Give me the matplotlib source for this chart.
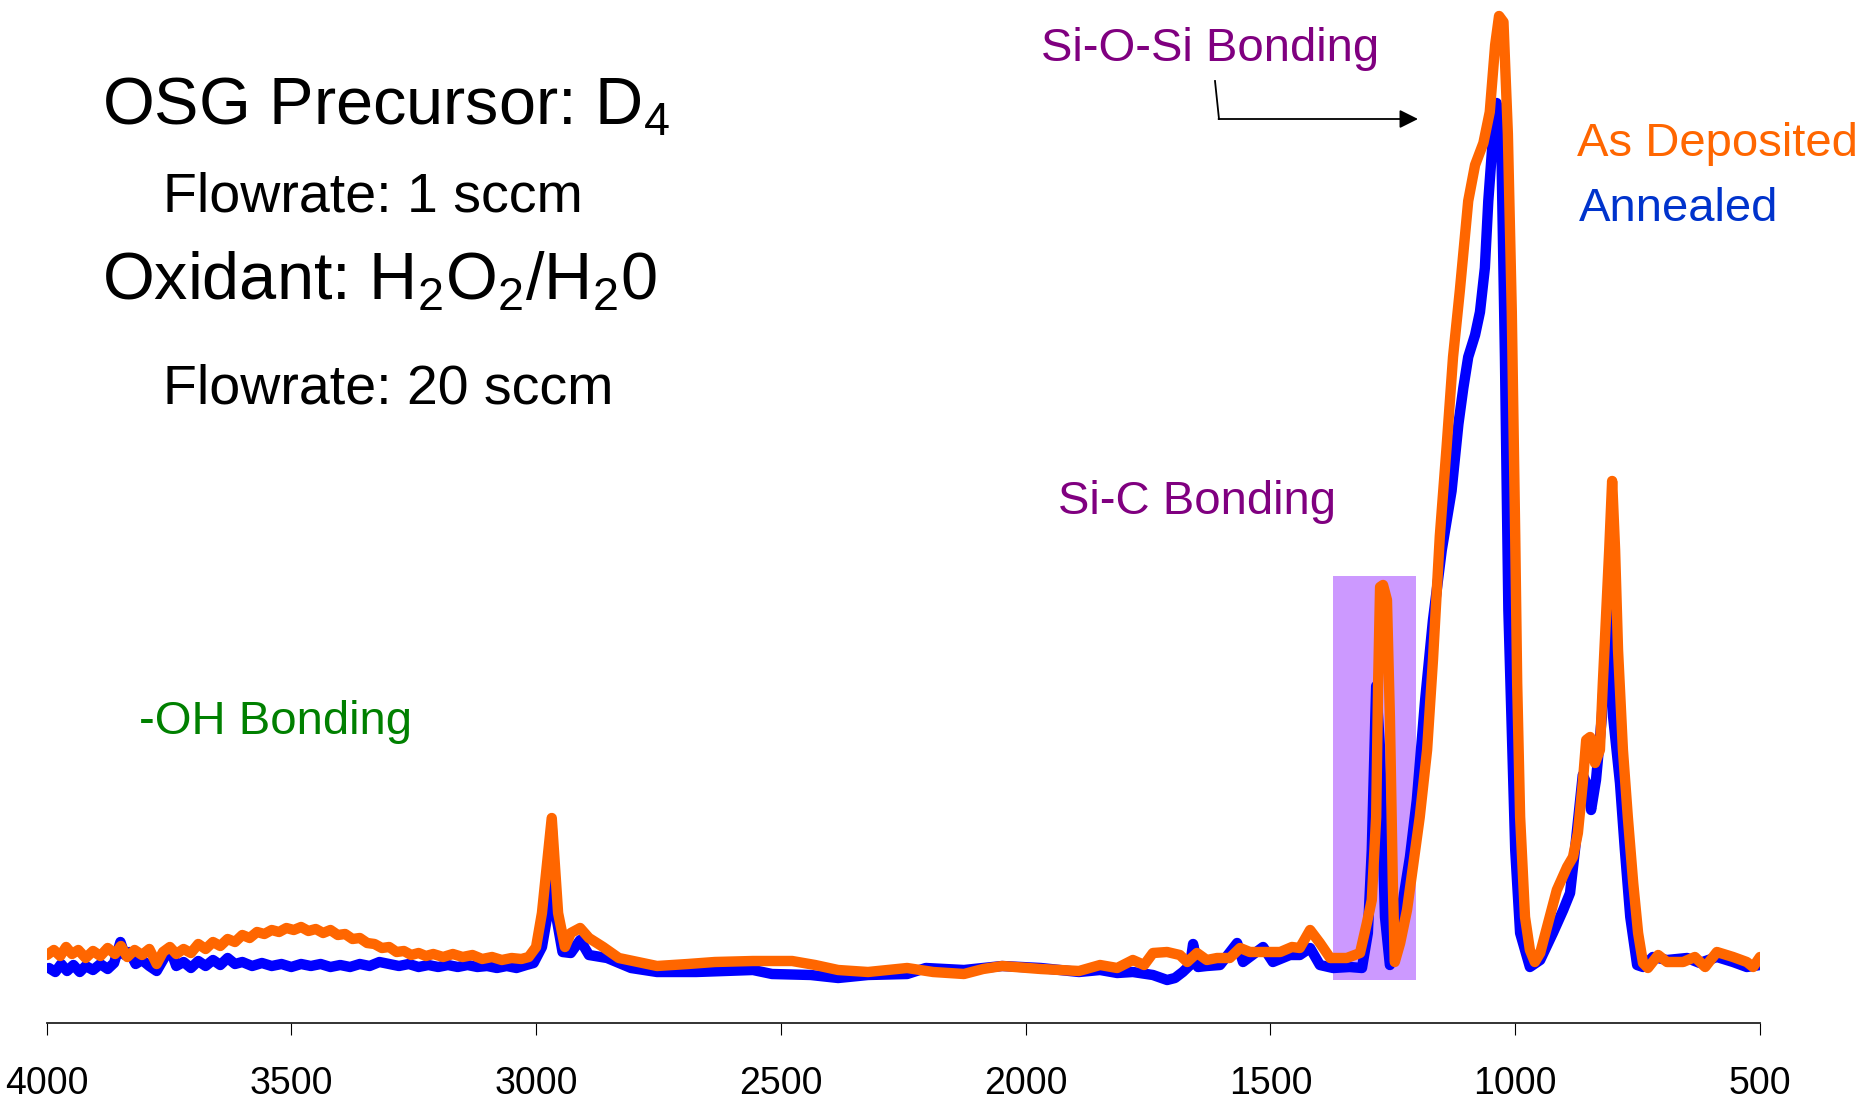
import matplotlib
matplotlib.use("Agg")
import matplotlib.pyplot as plt
from matplotlib.patches import Rectangle

plt.rcParams['font.family'] = ['Liberation Sans', 'DejaVu Sans']

# ── FTIR spectra (wavenumber in cm^-1, absorbance in arb. units) ──────────────
wn_dep = [3999, 3985, 3972, 3960, 3948, 3935, 3920, 3905, 3890, 3875, 3860, 3848,
          3835, 3820, 3805, 3790, 3775, 3762, 3748, 3735, 3720, 3705, 3690, 3675,
          3660, 3645, 3630, 3615, 3600, 3585, 3570, 3555, 3540, 3525, 3510, 3495,
          3480, 3465, 3450, 3435, 3420, 3405, 3390, 3375, 3360, 3345, 3330, 3315,
          3300, 3285, 3270, 3255, 3240, 3225, 3210, 3190, 3170, 3150, 3130, 3110,
          3090, 3070, 3050, 3030, 3015,
          3000, 2988, 2968, 2955, 2941, 2929, 2910, 2892, 2863, 2831, 2792,
          2753, 2690, 2635, 2557, 2477, 2430, 2383, 2322, 2242, 2189, 2126, 2087,
          2048, 1969, 1891, 1848, 1813, 1781, 1758, 1740, 1711, 1685, 1670, 1650,
          1630, 1609, 1583, 1562, 1542, 1507, 1480, 1456, 1440, 1419, 1399, 1378,
          1344, 1317, 1303, 1293, 1284, 1280, 1276, 1270, 1262, 1256, 1250, 1246,
          1235, 1221, 1209, 1195, 1180, 1168, 1154, 1140, 1127, 1113, 1103, 1096,
          1082, 1065, 1052, 1041, 1033, 1024, 1015, 1007, 1000, 996, 990, 980,
          970, 960, 949, 935, 915, 894, 882, 872, 862, 855, 847, 837, 827, 821,
          813, 808, 802, 796, 790, 780, 770, 759, 749, 739, 729, 708, 690, 657,
          633, 612, 588, 555, 527, 514, 500]
abs_dep = [0.005, 0.010, 0.004, 0.013, 0.006, 0.010, 0.002, 0.009, 0.004, 0.012, 0.006, 0.014,
           0.003, 0.010, 0.005, 0.011, -0.004, 0.008, 0.013, 0.006, 0.011, 0.007, 0.016, 0.011,
           0.018, 0.014, 0.021, 0.018, 0.025, 0.022, 0.028, 0.026, 0.030, 0.028, 0.032, 0.030,
           0.033, 0.029, 0.031, 0.027, 0.030, 0.025, 0.026, 0.021, 0.022, 0.017, 0.016, 0.012,
           0.013, 0.008, 0.009, 0.005, 0.007, 0.004, 0.006, 0.003, 0.006, 0.003, 0.005, 0.001,
           0.003, 0.000, 0.002, 0.001, 0.003,
           0.013, 0.047, 0.142, 0.047, 0.013, 0.027, 0.032, 0.022, 0.013, 0.002, -0.002,
           -0.006, -0.004, -0.002, -0.001, -0.001, -0.005, -0.010, -0.012, -0.008, -0.012, -0.014, -0.009,
           -0.006, -0.009, -0.011, -0.005, -0.008, 0.000, -0.005, 0.007, 0.008, 0.005, -0.002, 0.007,
           0.000, 0.002, 0.002, 0.012, 0.008, 0.008, 0.008, 0.013, 0.012, 0.030, 0.017, 0.002,
           0.002, 0.007, 0.037, 0.060, 0.143, 0.277, 0.373, 0.375, 0.360, 0.243, 0.077, -0.002,
           0.017, 0.050, 0.093, 0.143, 0.210, 0.300, 0.424, 0.514, 0.603, 0.670, 0.723, 0.759,
           0.795, 0.817, 0.848, 0.915, 0.944, 0.938, 0.826, 0.648, 0.424, 0.277, 0.143, 0.043,
           0.010, -0.002, 0.007, 0.033, 0.070, 0.093, 0.103, 0.127, 0.177, 0.220, 0.223, 0.197, 0.210, 0.277,
           0.360, 0.410, 0.479, 0.410, 0.310, 0.210, 0.143, 0.077, 0.027, -0.003, -0.008, 0.005, -0.002, -0.002,
           0.003, -0.007, 0.008, 0.003, -0.002, -0.007, 0.003]

wn_ann = [3995, 3982, 3970, 3958, 3945, 3932, 3920, 3905, 3890, 3875, 3862, 3849,
          3840, 3830, 3818, 3805, 3790, 3775, 3762, 3748, 3735, 3720, 3705, 3690,
          3675, 3660, 3645, 3630, 3615, 3600, 3580, 3560, 3540, 3520, 3500, 3480,
          3460, 3440, 3420, 3400, 3380, 3360, 3340, 3320, 3300, 3280, 3260, 3240,
          3220, 3200, 3180, 3160, 3140, 3120, 3100, 3080, 3060, 3040, 3020, 3005,
          2988, 2976, 2968, 2960,
          2946, 2929, 2910, 2892, 2855, 2806, 2753, 2673, 2557, 2518, 2439, 2383,
          2322, 2242, 2204, 2126, 2048, 1969, 1891, 1848, 1813, 1781, 1740, 1711,
          1695, 1679, 1664, 1658, 1648, 1630, 1603, 1568, 1556, 1515, 1495, 1460,
          1440, 1419, 1399, 1372, 1338, 1313, 1301, 1293, 1284, 1276, 1266, 1256,
          1241, 1229, 1215, 1201, 1184, 1168, 1150, 1130, 1116, 1106, 1096, 1082,
          1072, 1062, 1055, 1045, 1038, 1028, 1021, 1014, 1007, 1000, 990, 970,
          949, 923, 902, 888, 878, 862, 853, 845, 835, 823, 812, 806,
          800, 786, 776, 765, 751, 739, 719, 690, 649, 623, 588, 555,
          527, 500]
abs_ann = [-0.008, -0.012, -0.004, -0.011, -0.005, -0.012, -0.006, -0.010, -0.004, -0.009, -0.003, 0.018,
           0.005, 0.008, -0.004, 0.000, -0.006, -0.011, 0.000, 0.012, -0.006, -0.002, -0.008, -0.001,
           -0.006, 0.000, -0.005, 0.002, -0.004, -0.002, -0.006, -0.003, -0.006, -0.004, -0.007, -0.004,
           -0.006, -0.004, -0.007, -0.005, -0.007, -0.004, -0.006, -0.002, -0.004, -0.006, -0.004, -0.007,
           -0.005, -0.007, -0.005, -0.007, -0.005, -0.007, -0.006, -0.008, -0.006, -0.008, -0.005, -0.003,
           0.013, 0.047, 0.133, 0.047,
           0.008, 0.007, 0.020, 0.005, 0.002, -0.008, -0.012, -0.012, -0.010, -0.014, -0.015, -0.018,
           -0.015, -0.014, -0.008, -0.010, -0.006, -0.008, -0.012, -0.010, -0.013, -0.012, -0.015, -0.020,
           -0.018, -0.012, -0.005, 0.016, -0.007, -0.006, -0.005, 0.017, -0.002, 0.013, -0.002, 0.005,
           0.005, 0.012, -0.005, -0.008, -0.007, -0.008, 0.027, 0.110, 0.274, 0.210, 0.043, -0.005,
           0.027, 0.060, 0.103, 0.160, 0.260, 0.340, 0.410, 0.469, 0.536, 0.572, 0.603, 0.625,
           0.648, 0.692, 0.759, 0.826, 0.857, 0.804, 0.603, 0.350, 0.230, 0.110, 0.027, -0.007,
           0.000, 0.027, 0.050, 0.067, 0.110, 0.185, 0.175, 0.150, 0.180, 0.243, 0.343, 0.380,
           0.243, 0.177, 0.110, 0.043, -0.005, -0.007, 0.003, 0.000, 0.002, -0.003, 0.003, -0.002,
           -0.007, -0.005]

# Si-C band highlight (wavenumber range, absorbance range)
SIC_WN = (1372, 1203)
SIC_ABS = (-0.020, 0.384)

X_TICKS = [4000, 3500, 3000, 2500, 2000, 1500, 1000, 500]

W, H = 1870, 1099
fig = plt.figure(figsize=(W / 100, H / 100), dpi=100)

ax = fig.add_axes([46.5 / W, 76 / H, (1760 - 46.5) / W, 1 - 76 / H])
ax.set_xlim(4000, 500)
ax.set_ylim(-0.063, 0.960)

ax.add_patch(Rectangle((SIC_WN[1], SIC_ABS[0]), SIC_WN[0] - SIC_WN[1],
                       SIC_ABS[1] - SIC_ABS[0], facecolor="#CC99FF",
                       edgecolor="none", zorder=1))
ax.plot(wn_ann, abs_ann, color="#0000FF", lw=7.5, solid_joinstyle="round",
        solid_capstyle="round", zorder=2)
ax.plot(wn_dep, abs_dep, color="#FF6600", lw=7.5, solid_joinstyle="round",
        solid_capstyle="round", zorder=3)

for s in ["top", "left", "right"]:
    ax.spines[s].set_visible(False)
ax.spines["bottom"].set_linewidth(1.3)
ax.spines["bottom"].set_color("#222222")
ax.set_yticks([])
ax.set_xticks(X_TICKS)
ax.set_xticklabels([str(t) for t in X_TICKS], fontsize=27)
ax.tick_params(axis="x", direction="out", length=8.6, width=0.8, pad=22)
ax.patch.set_alpha(0)

# ── Annotations in pixel space ───────────────────────────────────────────────
ov = fig.add_axes([0, 0, 1, 1])
ov.set_xlim(0, W)
ov.set_ylim(H, 0)
ov.axis("off")
ov.patch.set_alpha(0)

ov.text(102, 125, r"OSG Precursor: D$_{\mathregular{4}}$", fontsize=48, va="baseline")
ov.text(163, 211, "Flowrate: 1 sccm", fontsize=40, va="baseline")
ov.text(102, 300, r"Oxidant: H$_{\mathregular{2}}$O$_{\mathregular{2}}$/H$_{\mathregular{2}}$0",
        fontsize=48, va="baseline")
ov.text(163, 403, "Flowrate: 20 sccm", fontsize=40, va="baseline")

ov.text(1041, 61, "Si-O-Si Bonding", fontsize=34, color="#800080", va="baseline")
ov.text(1058, 514, "Si-C Bonding", fontsize=34, color="#800080", va="baseline")
ov.text(139, 734, "-OH Bonding", fontsize=34, color="#008000", va="baseline")
ov.text(1577, 156, "As Deposited", fontsize=34, color="#FF6600", va="baseline")
ov.text(1579, 221, "Annealed", fontsize=34, color="#0033CC", va="baseline")

ov.plot([1215, 1219], [81, 119], color="black", lw=1.3)
ov.annotate("", xy=(1418, 119), xytext=(1218.5, 119),
            arrowprops=dict(arrowstyle="-|>", color="black", lw=1.3,
                            mutation_scale=28, shrinkA=0, shrinkB=0))

fig.savefig("out.png", dpi=100)
